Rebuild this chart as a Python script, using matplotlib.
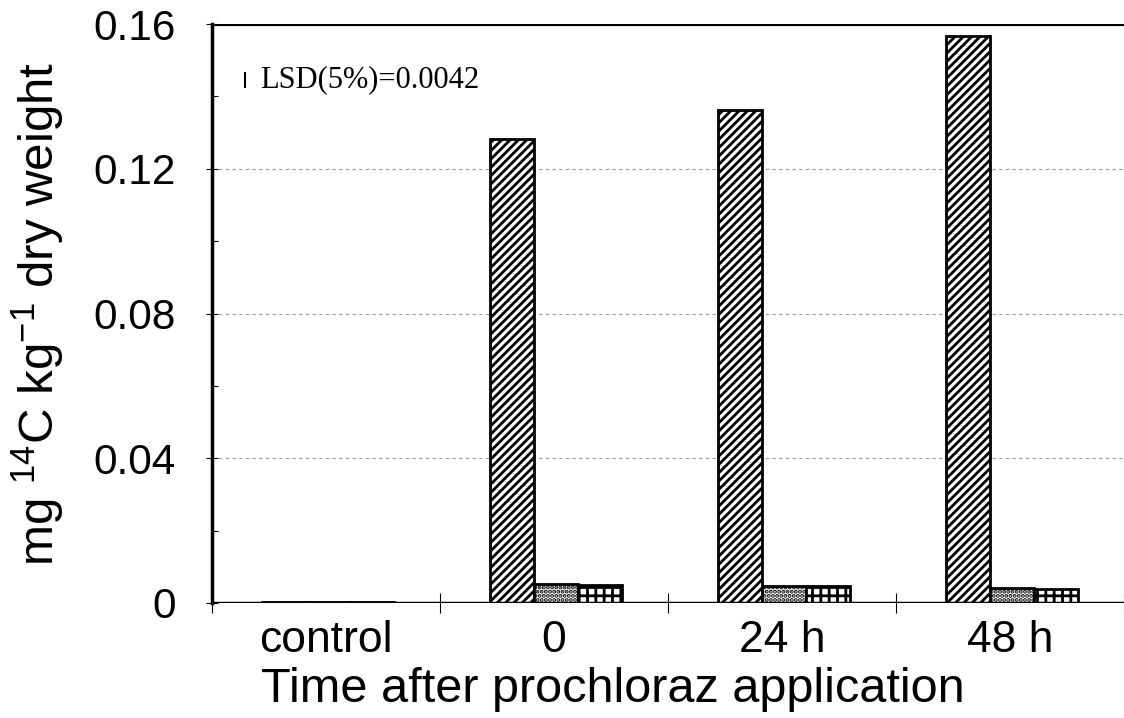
import numpy as np
import matplotlib
matplotlib.use('Agg')
import matplotlib.pyplot as plt
from matplotlib import font_manager

# Data
categories = ['control', '0', '24 h', '48 h']
hatched = [0.0004, 0.1282, 0.1362, 0.1566]
dotted = [0.0004, 0.0052, 0.0047, 0.0041]
checked = [0.0004, 0.0049, 0.0048, 0.0040]
lsd = 0.0042
yticks = [0, 0.04, 0.08, 0.12, 0.16]
ytick_labels = ['0', '0.04', '0.08', '0.12', '0.16']

names = {f.name for f in font_manager.fontManager.ttflist}
sans = 'Liberation Sans' if 'Liberation Sans' in names else 'DejaVu Sans'
serif = 'Liberation Serif' if 'Liberation Serif' in names else 'DejaVu Serif'

plt.rcParams['hatch.linewidth'] = 2.0
plt.rcParams['font.family'] = sans
plt.rcParams['mathtext.fontset'] = 'custom'
plt.rcParams['mathtext.rm'] = sans
plt.rcParams['mathtext.it'] = sans + ':italic'

fig = plt.figure(figsize=(11.24, 7.18), dpi=100)
ax = fig.add_axes([212 / 1124, 1 - 603 / 718, 1 - 212 / 1124, (603 - 24) / 718])

x = np.arange(len(categories))
w = 0.193
off = 0.008
ax.bar(x + off - w, hatched, w, color='white', edgecolor='black', hatch='////', linewidth=2, zorder=3)
ax.bar(x + off, dotted, w, color='white', edgecolor='black', hatch='....', linewidth=2, zorder=3)
ax.bar(x + off + w, checked, w, color='white', edgecolor='black', hatch='++', linewidth=2, zorder=3)

ax.set_xlim(-0.5, -0.5 + (1124 - 212) / 230)
ax.set_ylim(0, 0.16)

# dashed grid
for v in yticks[1:-1]:
    ax.axhline(v, color='#999999', linestyle=(0, (3, 3)), linewidth=0.8, zorder=1)
ax.axhline(0.16, color='black', linewidth=3, zorder=4)
ax.axhline(0, color='black', linewidth=2.5, zorder=4)

for s in ['top', 'right', 'bottom']:
    ax.spines[s].set_visible(False)
ax.spines['left'].set_linewidth(2.5)

ax.set_yticks(yticks)
ax.set_yticklabels(ytick_labels, fontsize=30.5)
ax.set_yticks([0.02, 0.06, 0.10, 0.14], minor=True)
ax.tick_params(axis='y', which='major', direction='inout', length=8, width=0.8, pad=22)
ax.tick_params(axis='y', which='minor', direction='in', length=4, width=0.8)

ax.set_xticks(x)
ax.set_xticklabels(categories, fontsize=32)
ax.tick_params(axis='x', which='major', length=0, pad=12)
ax.set_xticks([-0.5] + list(x + 0.5), minor=True)
ax.tick_params(axis='x', which='minor', direction='inout', length=14, width=0.8)

ax.set_xlabel('Time after prochloraz application', fontsize=35)
ax.xaxis.set_label_coords(0.44, -0.11)
ax.set_ylabel(r'mg $^{\mathrm{14}}$C kg$^{\mathrm{-1}}$ dry weight', fontsize=35.5, labelpad=19)

# LSD bar and label
ax.errorbar(-0.354, 0.1445, yerr=lsd / 2, fmt='none', ecolor='black', elinewidth=1.5, capsize=0)
ax.text(-0.29, 0.1445, 'LSD(5%)=0.0042', fontsize=22, family=serif, va='center', ha='left')

fig.savefig('out.png', dpi=100)
